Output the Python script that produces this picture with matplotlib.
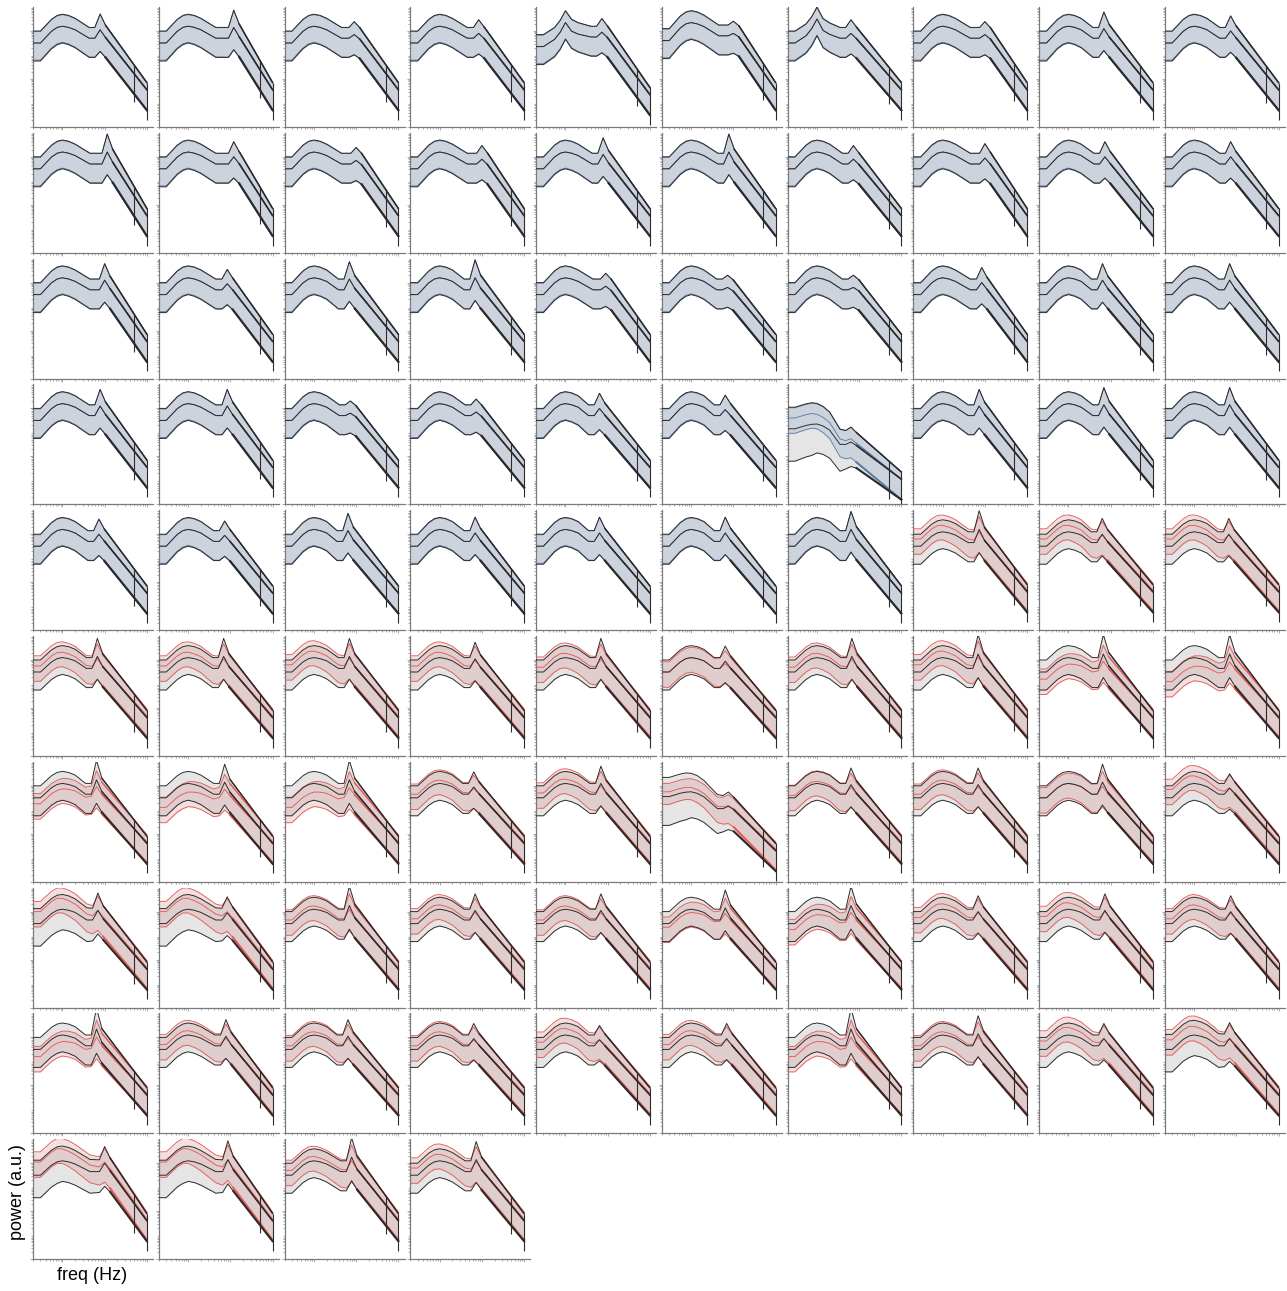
import numpy as np
import matplotlib
matplotlib.use('Agg')
import matplotlib.pyplot as plt
from matplotlib.ticker import LogLocator

plt.rcParams['font.family'] = ['Liberation Sans', 'DejaVu Sans']

# per-channel spectral features (log10 power, Hz)
n_chan = 94
n_blue = 47

alpha_hz = [7.8, 12.0, 9.0, 8.4, 7.3, 10.0, 6.4, 10.0, 6.9, 7.3,
            11.5, 12.0, 10.0, 10.0, 7.8, 7.8, 7.3, 10.0, 7.3, 7.3,
            10.0, 8.4, 6.9, 6.9, 9.0, 7.3, 7.3, 8.4, 6.4, 6.9,
            7.8, 8.4, 7.3, 7.3, 6.4, 6.4, 6.4, 7.3, 6.9, 6.9,
            7.3, 7.3, 6.4, 6.9, 6.4, 6.4, 6.4, 7.3, 6.3, 6.6,
            6.7, 6.9, 6.9, 6.9, 6.9, 6.4, 6.7, 6.9, 6.7, 6.9,
            6.4, 7.3, 6.9, 6.4, 6.9, 7.6, 6.4, 6.9, 6.4, 6.9,
            6.9, 8.4, 6.9, 6.9, 6.9, 6.4, 6.4, 6.9, 7.3, 7.3,
            6.4, 7.8, 6.4, 6.4, 6.4, 6.9, 6.4, 6.9, 6.9, 6.9,
            10.0, 8.7, 7.8, 7.3]

alpha_amp = [.35, .45, .15, .20, .20, .10, .20, .15, .40, .30,
             .50, .30, .15, .20, .40, .50, .20, .25, .30, .30,
             .40, .25, .45, .50, .15, .10, .10, .30, .40, .40,
             .40, .40, .10, .15, .30, .25, .10, .40, .45, .45,
             .30, .25, .45, .35, .35, .35, .50, .55, .35, .35,
             .50, .50, .50, .40, .50, .30, .50, .60, .60, .60,
             .60, .50, .60, .30, .45, .10, .40, .40, .50, .25,
             .40, .30, .60, .40, .40, .50, .60, .35, .40, .35,
             .70, .40, .40, .30, .25, .30, .70, .50, .30, .30,
             .35, .50, .60, .50]

# low-frequency offset of the second condition relative to the first
shift = [0.0] * 47 + [.30, .30, .30,
                      .25, .25, .30, .25, .20, 0.0, .20, .30, -.30, -.40,
                      -.25, -.40, -.40, .15, .20, .20, .10, .15, 0.0, .35,
                      .50, .50, .15, .20, .15, -.15, -.25, .25, .30, .20,
                      -.30, .20, .15, .15, .30, .20, -.30, .15, .35, .40,
                      .55, .55, .20, .30]
shift[36] = 0.45

start = [-0.5] * n_chan
hump = [0.7] * 47 + [0.6] * 47
dip = [0.2] * 47 + [0.15] * 47
end = [-2.45] * 47 + [-2.4] * 47
spread = [1.0] * n_chan
col_spread = [0.95] * 47 + [0.85] * 47
sharp_hump = [5, 7]

start[4], hump[4], dip[4], end[4] = -0.65, 1.0, 0.4, -2.65
start[5], hump[5] = -0.4, 0.75
hump[6], dip[6] = 1.0, 0.2
start[36], hump[36], dip[36], end[36] = -0.85, 0.2, -0.65, -2.95
spread[36], col_spread[36] = 1.8, 0.85
start[65], hump[65], dip[65], end[65] = -0.45, 0.2, -0.5, -2.7
spread[65], col_spread[65] = 1.6, 0.7
for k in (70, 71, 89, 90, 91):
    spread[k] = 1.25

W = np.array([1, 1, 1, 1, 0.9, 0.8, 0.7, 0.5, 0.35, 0.3, 0.2, 0.0])
UP_OFF = np.array([.5, .5, .5, .5, .5, .5, .48, .45, .45, .45, .45, .3])
LO_OFF = np.array([.75, .75, .73, .72, .7, .72, .75, .8, .8, .8, .8, .85])
KNEE = 10

GRAY_FILL = '#d0d0d0'
DARK = '#2e2a2a'
BLUE_FILL, BLUE_LINE = '#96aacd', '#5b7ea6'
RED_FILL, RED_LINE = '#d79696', '#e25c58'


def freqs(fa):
    return np.array([0.2, 0.3, 0.55, 0.75, 1.0, 1.4, 2.0, min(4.5, 0.55 * fa),
                     0.75 * fa, fa, 1.35 * fa, 100.0])


def profile(i, amp, sharp, end_lvl):
    s = start[i]
    h = s + hump[i]
    d = s + dip[i]
    if sharp:
        rise, fall = (0.3, 0.6), (0.6, 0.8)
    else:
        rise, fall = (0.7, 0.93), (0.1, 0.3)
    return np.array([s, s, s + rise[0] * hump[i], s + rise[1] * hump[i], h,
                     h - fall[0] * (h - d), h - fall[1] * (h - d), d, d,
                     d + amp, d + 0.3 * amp - 0.08, end_lvl])


def band(i, amp, sp, sh, end_lvl):
    sharp = (i + 1) in sharp_hump
    spw = 1 + (sp - 1) * W
    mid = profile(i, amp, sharp, end_lvl) + sh * W
    hi = profile(i, amp * 1.6, sharp, end_lvl) + sh * W + spw * UP_OFF
    lo = profile(i, amp * 0.7, sharp, end_lvl) + sh * W - spw * LO_OFF
    return lo, mid, hi


def draw_lines(ax, f, curves, color, lw):
    for y, tail_lw in zip(curves, (1.5, 1.1, 1.0)):
        ax.plot(f, 10 ** y, color=color, lw=lw, zorder=3)
        ax.plot(f[KNEE:], 10 ** y[KNEE:], color=color, lw=tail_lw, zorder=3)


fig = plt.figure(figsize=(12.87, 12.91), dpi=100)

for i in range(n_chan):
    r, c = divmod(i, 10)
    ax = fig.add_axes([(33 + c * 125.75) / 1287,
                       1 - (7 + r * 125.8 + 120) / 1291,
                       120 / 1287, 120 / 1291])
    f = freqs(alpha_hz[i])
    blue = i < n_blue
    fill_c, line_c = (BLUE_FILL, BLUE_LINE) if blue else (RED_FILL, RED_LINE)

    black = band(i, alpha_amp[i], spread[i], 0.0, end[i])
    col_amp = alpha_amp[i] * (1.0 if blue else 0.65)
    col_end = end[i] + (0.0 if blue else 0.05)
    color = band(i, col_amp, col_spread[i], shift[i], col_end)

    ax.fill_between(f, 10 ** black[0], 10 ** black[2], color=GRAY_FILL,
                    alpha=0.55, lw=0, zorder=1)
    ax.fill_between(f, 10 ** color[0], 10 ** color[2], color=fill_c,
                    alpha=0.3, lw=0, zorder=1)
    draw_lines(ax, f, color, line_c, 0.65)
    draw_lines(ax, f, black, DARK, 0.7)

    # line-noise notches at 50 and 100 Hz
    lf = np.log10(f)
    top50 = np.interp(np.log10(50), lf, black[2])
    bot50 = np.interp(np.log10(50), lf, black[0]) - 0.35
    ax.vlines([50, 100], [10 ** bot50, 10 ** (black[0][-1] - 0.4)],
              [10 ** top50, 10 ** black[2][-1]], color=DARK, lw=0.8, zorder=4)

    ax.set_xscale('log')
    ax.set_yscale('log')
    ax.set_xlim(0.2, 140)
    ax.set_ylim(1e-4, 10)
    ax.yaxis.set_minor_locator(LogLocator(base=10, subs=np.arange(2, 10),
                                          numticks=20))
    for side in ('top', 'right'):
        ax.spines[side].set_visible(False)
    for side in ('left', 'bottom'):
        ax.spines[side].set_color('#7a7a7a')
        ax.spines[side].set_linewidth(0.9)
    ax.tick_params(which='both', direction='out', colors='#8a8a8a',
                   width=0.5, labelbottom=False, labelleft=False)
    ax.tick_params(which='major', length=2.5)
    ax.tick_params(which='minor', length=1.5)

fig.text(18 / 1287, 1 - 1192 / 1291, 'power (a.u.)', rotation=90,
         ha='center', va='center', fontsize=13)
fig.text(92 / 1287, 1 - 1276 / 1291, 'freq (Hz)', ha='center', va='center',
         fontsize=13)

fig.savefig('out.png', dpi=100)
